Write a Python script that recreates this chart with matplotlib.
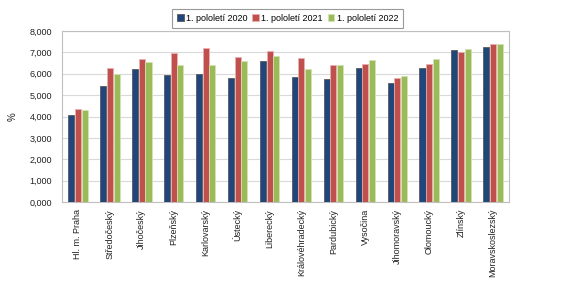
import numpy as np
import matplotlib.pyplot as plt
from matplotlib.ticker import FuncFormatter

# regions and shares (%)
regions = ["Hl. m. Praha", "Středočeský", "Jihočeský", "Plzeňský", "Karlovarský",
           "Ústecký", "Liberecký", "Královéhradecký", "Pardubický", "Vysočina",
           "Jihomoravský", "Olomoucký", "Zlínský", "Moravskoslezský"]
h1_2020 = [4.08, 5.45, 6.23, 5.92, 5.97, 5.79, 6.59, 5.87, 5.76, 6.26, 5.56, 6.26, 7.09, 7.24]
h1_2021 = [4.33, 6.28, 6.71, 6.99, 7.21, 6.79, 7.06, 6.74, 6.39, 6.45, 5.81, 6.45, 7.01, 7.37]
h1_2022 = [4.29, 6.01, 6.54, 6.43, 6.43, 6.59, 6.82, 6.23, 6.43, 6.62, 5.89, 6.70, 7.16, 7.37]
series_labels = ["1. pololetí 2020", "1. pololetí 2021", "1. pololetí 2022"]
colors = ["#1F477B", "#C0504D", "#9BBB59"]
edges = ["#5a5a5a", "#e8b0ae", "#d3e2b5"]

plt.rcParams['font.family'] = ['Liberation Sans', 'DejaVu Sans']

fig = plt.figure(figsize=(5.67, 2.84), dpi=100)
ax = fig.add_axes([62 / 567, 1 - 202 / 284, 447 / 567, 171 / 284])

x = np.arange(len(regions))
width = 0.19
step = 0.21
for i, vals in enumerate([h1_2020, h1_2021, h1_2022]):
    ax.bar(x + (i - 1) * step, vals, width, color=colors[i], edgecolor=edges[i],
           linewidth=0.6, label=series_labels[i], zorder=3)

ax.set_xlim(-0.5, len(regions) - 0.5)
ax.set_ylim(0, 8)
ax.set_yticks(np.arange(0, 9, 1))
ax.yaxis.set_major_formatter(FuncFormatter(lambda v, p: f"{v:.3f}".replace(".", ",")))
ax.grid(axis='y', color='#D9D9D9', linewidth=0.8, zorder=0)
ax.set_xticks(x)
ax.set_xticklabels(regions, rotation=90, fontsize=6.5, color='#222222')
ax.tick_params(axis='both', length=0, labelsize=6.5, colors='#222222')
ax.tick_params(axis='x', pad=5)
ax.tick_params(axis='y', pad=7)
for s in ax.spines.values():
    s.set_color('#BFBFBF')
    s.set_linewidth(0.8)
ax.set_ylabel("%", fontsize=7, color='#222222', labelpad=9)

leg = ax.legend(loc='lower center', bbox_to_anchor=(0.505, 1.02), ncol=3, fontsize=6.5,
                frameon=True, fancybox=False, edgecolor='#808080', handlelength=0.7,
                handleheight=0.7, handletextpad=0.3, columnspacing=0.5,
                borderpad=0.55, borderaxespad=0)
leg.get_frame().set_linewidth(0.8)

fig.savefig("out.png", dpi=100)
